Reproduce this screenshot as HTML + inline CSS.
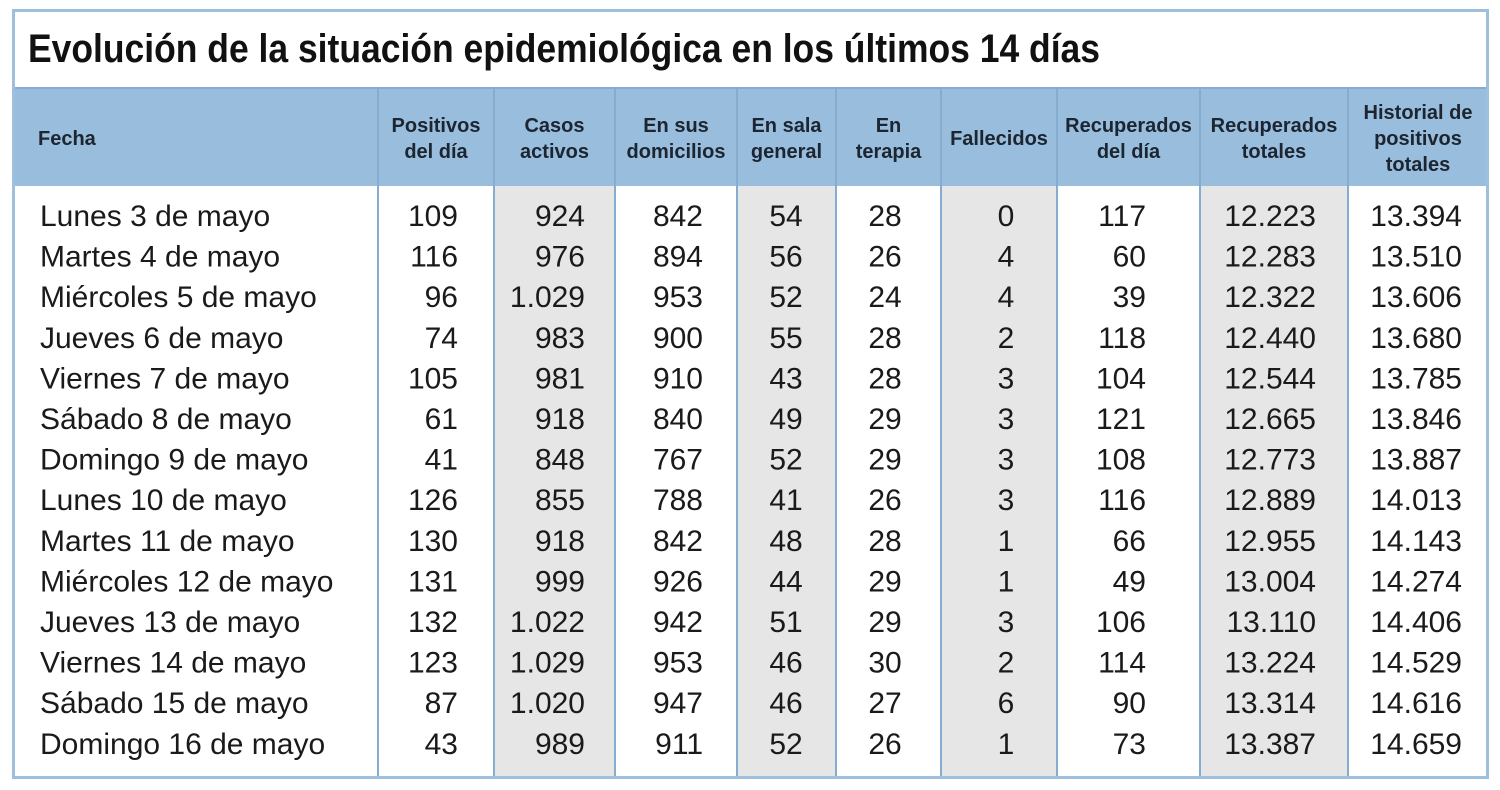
<!DOCTYPE html>
<html><head><meta charset="utf-8"><style>
html,body{margin:0;padding:0;background:#fff;}
svg{display:block;}
text{font-family:"Liberation Sans Narrow","Liberation Sans",sans-serif;fill:#1a1a1a;}
.h{font-weight:bold;font-size:20px;fill:#1c2530;}
.d{font-size:30px;}
</style></head><body>
<svg id="chart" width="1500" height="790" viewBox="0 0 1500 790">
<rect x="0" y="0" width="1500" height="790" fill="#fff"/>
<g id="shade"></g>
<rect x="13" y="88" width="1475" height="98" fill="#98bddd"/>
<g id="lines"></g>
<rect x="13.5" y="10.5" width="1474" height="767" fill="none" stroke="#9fc0dd" stroke-width="3"/>
<text x="28" y="62" font-size="40" font-weight="bold" textLength="1072" lengthAdjust="spacingAndGlyphs" style="fill:#111">Evolución de la situación epidemiológica en los últimos 14 días</text>
<g id="head"></g>
<g id="body"></g>
</svg>
<script>
const dates=["Lunes 3 de mayo","Martes 4 de mayo","Miércoles 5 de mayo","Jueves 6 de mayo","Viernes 7 de mayo","Sábado 8 de mayo","Domingo 9 de mayo","Lunes 10 de mayo","Martes 11 de mayo","Miércoles 12 de mayo","Jueves 13 de mayo","Viernes 14 de mayo","Sábado 15 de mayo","Domingo 16 de mayo"];
const positivos=["109","116","96","74","105","61","41","126","130","131","132","123","87","43"];
const activos=["924","976","1.029","983","981","918","848","855","918","999","1.022","1.029","1.020","989"];
const domicilios=["842","894","953","900","910","840","767","788","842","926","942","953","947","911"];
const sala=["54","56","52","55","43","49","52","41","48","44","51","46","46","52"];
const terapia=["28","26","24","28","28","29","29","26","28","29","29","30","27","26"];
const fallecidos=["0","4","4","2","3","3","3","3","1","1","3","2","6","1"];
const recDia=["117","60","39","118","104","121","108","116","66","49","106","114","90","73"];
const recTot=["12.223","12.283","12.322","12.440","12.544","12.665","12.773","12.889","12.955","13.004","13.110","13.224","13.314","13.387"];
const historial=["13.394","13.510","13.606","13.680","13.785","13.846","13.887","14.013","14.143","14.274","14.406","14.529","14.616","14.659"];
const headers=[["Fecha"],["Positivos","del día"],["Casos","activos"],["En sus","domicilios"],["En sala","general"],["En","terapia"],["Fallecidos"],["Recuperados","del día"],["Recuperados","totales"],["Historial de","positivos","totales"]];
const NS="http://www.w3.org/2000/svg";
function mk(tag,attrs,parent){const e=document.createElementNS(NS,tag);for(const k in attrs)e.setAttribute(k,attrs[k]);parent.appendChild(e);return e;}
const bounds=[13,378,494,615,737,836,941,1057,1200,1348,1488];
const shaded=[2,4,6,8];
const cols=[dates,positivos,activos,domicilios,sala,terapia,fallecidos,recDia,recTot,historial];
const colKeys=["date","positivos","activos","domicilios","sala","terapia","fallecidos","recuperados-dia","recuperados-totales","historial"];
const anchorX=[40,458,585,703,786,885,1006,1146,1316,1462];
const anchors=["start","end","end","end","middle","middle","middle","end","end","end"];
const shade=document.getElementById('shade'),lines=document.getElementById('lines'),head=document.getElementById('head'),body=document.getElementById('body');
shaded.forEach(c=>{const r=mk('rect',{x:bounds[c],y:186,width:bounds[c+1]-bounds[c],height:591,fill:'#e6e6e6'},shade);

});
for(let i=1;i<bounds.length-1;i++){const l=mk('line',{x1:bounds[i],x2:bounds[i],y1:88,y2:777,stroke:'#86acd0','stroke-width':2},lines);

}
const hl=mk('line',{x1:13,x2:1488,y1:88,y2:88,stroke:'#86acd0','stroke-width':2},lines);


headers.forEach((h,c)=>{
  const cx=c===0?38:(bounds[c]+bounds[c+1])/2;
  const lh=26;const start=138-(h.length-1)*lh/2;
  const t=mk('text',{class:'h','text-anchor':c===0?'start':'middle'},head);
  
  
  h.forEach((s,j)=>{const ts=mk('tspan',{x:cx,y:start+j*lh+7},t);ts.textContent=s;});
});
const y0=215,dy=40.6;
cols.forEach((arr,c)=>{arr.forEach((v,i)=>{
  const t=mk('text',{class:'d',x:anchorX[c],y:y0+i*dy+11,'text-anchor':anchors[c]},body);
  
  
  t.textContent=v;});});
</script>
</body></html>
